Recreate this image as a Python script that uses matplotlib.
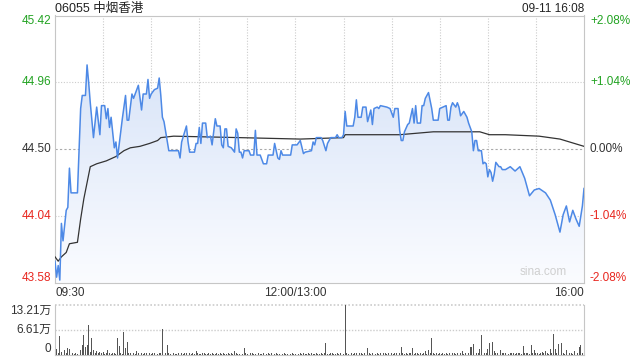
import numpy as np
import matplotlib
matplotlib.use('Agg')
import matplotlib.pyplot as plt
import matplotlib.transforms as mtransforms
from matplotlib.colors import LinearSegmentedColormap

plt.rcParams['font.family'] = ['Liberation Sans', 'Noto Sans CJK SC', 'DejaVu Sans']

# 分时数据 (分钟: 0 = 09:30, 150 = 12:00/13:00, 330 = 16:00)
price_min = [0, 1, 2, 3, 4, 5, 7, 8, 9, 10, 14, 16, 17, 19, 20, 21, 22, 24, 26, 28,
             29, 31, 32, 33, 34, 35, 37, 38, 39, 42, 44, 45, 46, 48, 49, 52, 54, 55, 57, 58,
             59, 60, 62, 64, 65, 66, 67, 68, 71, 77, 78, 79, 82, 83, 84, 87, 88, 89, 90, 91,
             92, 94, 95, 97, 98, 100, 101, 103, 104, 105, 106, 107, 108, 110, 112, 113, 114, 115, 116, 117,
             118, 121, 122, 124, 125, 126, 128, 130, 132, 133, 136, 137, 139, 140, 141, 142, 147, 148, 151, 153,
             155, 156, 160, 161, 162, 163, 166, 167, 169, 170, 172, 175, 176, 177, 179, 180, 181, 182, 186, 187,
             188, 189, 191, 192, 194, 195, 197, 198, 199, 201, 202, 203, 207, 209, 211, 212, 214, 215, 216, 217,
             218, 220, 221, 223, 224, 225, 226, 228, 229, 230, 231, 233, 235, 236, 239, 240, 242, 244, 245, 246,
             247, 248, 250, 251, 252, 253, 255, 257, 258, 260, 261, 262, 263, 264, 266, 267, 268, 269, 270, 271,
             272, 273, 274, 275, 277, 278, 279, 281, 284, 287, 290, 293, 296, 299, 302, 306, 309, 312, 315, 317,
             319, 321, 323, 325, 327, 329, 330]
price = [43.73, 43.62, 43.70, 43.60, 43.99, 43.87, 44.08, 44.10, 44.37, 44.20, 44.20, 44.78, 44.87, 44.87, 45.08, 44.96, 44.82, 44.58, 44.79, 44.60,
         44.80, 44.80, 44.71, 44.78, 44.65, 44.72, 44.51, 44.55, 44.44, 44.71, 44.87, 44.70, 44.70, 44.88, 44.85, 44.94, 44.77, 44.88, 44.88, 44.98,
         44.85, 44.88, 44.91, 44.92, 44.99, 44.87, 44.72, 44.69, 44.49, 44.49, 44.44, 44.55, 44.66, 44.55, 44.48, 44.48, 44.54, 44.54, 44.65, 44.54,
         44.68, 44.68, 44.58, 44.59, 44.53, 44.71, 44.66, 44.66, 44.53, 44.51, 44.64, 44.64, 44.52, 44.51, 44.48, 44.64, 44.61, 44.48, 44.48, 44.44,
         44.49, 44.49, 44.46, 44.46, 44.63, 44.46, 44.46, 44.40, 44.40, 44.46, 44.46, 44.54, 44.44, 44.43, 44.49, 44.46, 44.46, 44.53, 44.53, 44.56,
         44.47, 44.48, 44.49, 44.55, 44.53, 44.58, 44.58, 44.56, 44.49, 44.54, 44.58, 44.58, 44.60, 44.58, 44.58, 44.60, 44.76, 44.66, 44.66, 44.72,
         44.84, 44.72, 44.72, 44.79, 44.79, 44.69, 44.77, 44.67, 44.78, 44.79, 44.78, 44.80, 44.79, 44.78, 44.72, 44.78, 44.78, 44.63, 44.56, 44.56,
         44.62, 44.67, 44.68, 44.78, 44.68, 44.80, 44.68, 44.68, 44.80, 44.80, 44.85, 44.89, 44.78, 44.70, 44.70, 44.78, 44.79, 44.80, 44.70, 44.70,
         44.79, 44.82, 44.79, 44.82, 44.79, 44.73, 44.76, 44.72, 44.68, 44.62, 44.49, 44.56, 44.56, 44.49, 44.49, 44.40, 44.41, 44.40, 44.31, 44.36,
         44.34, 44.28, 44.33, 44.41, 44.38, 44.38, 44.36, 44.36, 44.38, 44.35, 44.38, 44.30, 44.18, 44.22, 44.23, 44.20, 44.15, 44.05, 43.93, 44.05,
         44.11, 44.00, 44.08, 44.02, 43.97, 44.11, 44.23]

avg_min = [0, 2, 4, 7, 9, 14, 16, 18, 20, 22, 26, 32, 38, 43, 47, 53, 59, 64, 66, 74,
           115, 153, 180, 181, 215, 236, 259, 265, 271, 281, 302, 315, 324, 330]
avg_price = [43.76, 43.73, 43.76, 43.79, 43.85, 43.86, 44.02, 44.16, 44.27, 44.38, 44.40, 44.42, 44.45, 44.49, 44.51, 44.52, 44.54, 44.56, 44.58, 44.59,
             44.58, 44.57, 44.58, 44.60, 44.60, 44.62, 44.62, 44.62, 44.60, 44.60, 44.59, 44.57, 44.54, 44.52]

# 成交量 (万), 每分钟一根
volume = [5.0, 1.6, 0.6, 5.0, 0.8, 3.1, 1.3, 0.5, 1.9, 1.6,
          0.8, 0.4, 0.3, 0.5, 0.3, 0.4, 1.3, 2.6, 5.3, 2.2,
          2.6, 7.9, 0.9, 4.4, 1.3, 0.6, 1.1, 0.5, 0.7, 0.4,
          0.7, 0.3, 0.5, 1.3, 0.4, 0.3, 0.6, 0.4, 0.3, 4.6,
          2.4, 0.5, 0.3, 6.2, 1.9, 3.5, 0.6, 0.4, 1.3, 0.5,
          0.3, 1.0, 0.4, 1.6, 0.5, 0.3, 0.4, 0.6, 2.9, 0.4,
          0.3, 0.5, 0.4, 0.8, 0.3, 0.4, 0.5, 6.8, 0.6, 0.4,
          2.6, 0.5, 0.3, 0.2, 0.4, 0.3, 0.2, 0.5, 0.3, 0.4,
          0.3, 0.6, 0.4, 0.2, 0.5, 0.3, 0.4, 0.2, 1.1, 0.5,
          0.3, 0.2, 0.4, 0.6, 0.3, 0.2, 0.5, 0.3, 0.4, 0.2,
          0.3, 0.5, 0.2, 0.4, 0.3, 0.6, 0.2, 0.3, 0.4, 0.2,
          0.5, 0.3, 1.0, 0.4, 0.2, 0.3, 0.5, 0.2, 1.8, 0.4,
          0.3, 0.2, 0.4, 0.5, 0.3, 0.2, 1.8, 0.4, 0.3, 0.2,
          0.5, 0.3, 0.2, 0.4, 0.3, 0.6, 0.2, 0.3, 0.4, 0.2,
          0.3, 0.5, 0.2, 0.4, 0.3, 0.2, 0.5, 0.3, 0.4, 0.2,
          0.3, 0.9, 0.2, 0.4, 0.3, 0.5, 0.2, 0.3, 0.4, 0.2,
          0.5, 0.3, 0.2, 0.4, 0.3, 0.2, 0.5, 0.3, 0.4, 3.1,
          0.3, 0.2, 0.4, 0.5, 0.3, 0.2, 0.4, 0.3, 0.5, 0.2,
          0.3, 13.21, 0.4, 0.2, 0.3, 0.5, 0.3, 0.4, 0.6, 0.3,
          0.5, 0.4, 0.3, 0.6, 0.4, 1.8, 0.5, 0.3, 0.6, 0.4,
          0.3, 0.5, 0.2, 0.4, 0.3, 0.6, 0.4, 0.3, 0.5, 0.2,
          0.4, 0.3, 0.6, 0.4, 0.3, 0.5, 2.0, 0.4, 0.3, 0.5,
          0.3, 0.4, 0.6, 1.8, 0.3, 0.5, 0.4, 0.2, 0.6, 0.3,
          0.4, 1.1, 0.3, 1.3, 0.5, 4.4, 0.4, 0.3, 0.5, 0.2,
          0.4, 0.3, 0.6, 0.2, 0.4, 0.3, 0.5, 0.2, 0.6, 0.4,
          0.3, 0.5, 0.4, 0.6, 1.1, 0.3, 0.5, 1.0, 0.4, 2.0,
          2.2, 2.8, 1.3, 0.5, 0.4, 1.5, 5.3, 1.8, 0.6, 0.4,
          1.5, 3.1, 0.5, 3.5, 1.0, 0.4, 0.6, 0.3, 1.3, 0.5,
          0.4, 0.6, 0.8, 0.3, 0.5, 0.4, 0.6, 0.3, 0.5, 0.4,
          0.6, 0.3, 2.4, 0.5, 0.4, 0.6, 0.3, 2.6, 0.5, 1.3,
          0.4, 0.6, 0.3, 0.5, 0.8, 0.4, 1.0, 0.5, 0.3, 1.5,
          0.6, 5.5, 1.5, 0.4, 2.8, 4.2, 3.1, 0.5, 0.3, 1.3,
          1.3, 0.4, 0.6, 0.3, 1.0, 0.5, 0.4, 2.2, 2.6, 0.6,
          1.8]

prev_close = 44.50
price_ticks = [45.42, 44.96, 44.50, 44.04, 43.58]
pct_ticks = ['+2.08%', '+1.04%', '0.00%', '-1.04%', '-2.08%']
tick_colors = ['#22a322', '#22a322', '#333333', '#e8261f', '#e8261f']
vol_ticks = [13.21, 6.61, 0]
vol_labels = ['13.21万', '6.61万', '0']

green = '#22a322'
grid_c = '#cccccc'
border_c = '#c6c6c6'

fig = plt.figure(figsize=(6.4, 3.6), dpi=100)
ax = fig.add_axes([55 / 640, 1 - 283 / 360, 529 / 640, 267.5 / 360])
axv = fig.add_axes([55 / 640, 1 - 355 / 360, 529 / 640, 50 / 360])

ax.set_xlim(0, 330)
ax.set_ylim(price_ticks[-1], price_ticks[0])

# 网格
for m in range(30, 330, 30):
    ax.axvline(m, color=grid_c, lw=0.8, ls=(0, (1, 1.5)), zorder=1)
for p in [44.96, 44.04]:
    ax.axhline(p, color=grid_c, lw=0.8, ls=(0, (1, 1.5)), zorder=1)
ax.axhline(prev_close, color='#aaaaaa', lw=0.8, ls=(0, (2, 2)), zorder=1)

# 渐变填充
poly = ax.fill_between(price_min, price, price_ticks[-1], facecolor='none', edgecolor='none')
cmap = LinearSegmentedColormap.from_list('fill', ['#fbfcff', '#d8e4f8'])
grad = np.linspace(1, 0, 256).reshape(-1, 1)
im = ax.imshow(grad, cmap=cmap, aspect='auto', extent=[0, 330, price_ticks[-1], max(price)],
               zorder=2, vmin=0, vmax=1)
im.set_clip_path(poly.get_paths()[0], transform=ax.transData)
ax.set_xlim(0, 330)
ax.set_ylim(price_ticks[-1], price_ticks[0])

ax.plot(price_min, price, color='#4d89e6', lw=1.1, zorder=4)
ax.plot(avg_min, avg_price, color='#333333', lw=0.9, zorder=3)

for s in ax.spines.values():
    s.set_color(border_c)
    s.set_linewidth(0.8)
ax.set_xticks([])
ax.set_yticks([])

# 左右刻度
offsets = [-6, 0, 0, 0, 5]
for p, pct, c, off in zip(price_ticks, pct_ticks, tick_colors, offsets):
    tl = mtransforms.offset_copy(ax.get_yaxis_transform(), fig=fig, x=-4, y=off, units='dots')
    ax.text(0, p, f'{p:.2f}', transform=tl, ha='right', va='center', fontsize=8.5, color=c)
    tr = mtransforms.offset_copy(ax.get_yaxis_transform(), fig=fig, x=6, y=off, units='dots')
    ax.text(1, p, pct, transform=tr, ha='left', va='center', fontsize=8.5, color=c)

# 时间轴标签
tx = mtransforms.offset_copy(ax.get_xaxis_transform(), fig=fig, y=-10, units='dots')
ax.text(0, 0, '09:30', transform=tx, ha='left', va='center', fontsize=8.5, color='#333333')
ax.text(150, 0, '12:00/13:00', transform=tx, ha='center', va='center', fontsize=8.5, color='#333333')
ax.text(330, 0, '16:00', transform=tx, ha='right', va='center', fontsize=8.5, color='#333333')

ax.text(0.967, 0.018, 'sina.com', transform=ax.transAxes, ha='right', va='bottom',
        fontsize=8.5, color='#cfcfcf', zorder=5)

fig.text(55 / 640, 1 - 9 / 360, '06055 中烟香港', ha='left', va='center', fontsize=9, color='#222222')
fig.text(584 / 640, 1 - 9 / 360, '09-11 16:08', ha='right', va='center', fontsize=8.5, color='#222222')

# 成交量
vol_min = np.arange(len(volume))
axv.bar(vol_min, volume, width=0.55, color='#555555', zorder=3)
axv.set_xlim(0, 330)
axv.set_ylim(0, vol_ticks[0])
axv.axhline(vol_ticks[0], color=grid_c, lw=1.2, ls=(0, (1, 1.2)), clip_on=False)
axv.axhline(vol_ticks[1], color=grid_c, lw=1.0, ls=(0, (1, 1.2)))
axv.spines['top'].set_visible(False)
for side in ['left', 'right', 'bottom']:
    axv.spines[side].set_color(border_c)
    axv.spines[side].set_linewidth(0.8)
axv.set_xticks([])
axv.set_yticks([])
voffs = [-6, 0, 6]
for v, lab, off in zip(vol_ticks, vol_labels, voffs):
    tv = mtransforms.offset_copy(axv.get_yaxis_transform(), fig=fig, x=-4, y=off, units='dots')
    axv.text(0, v, lab, transform=tv, ha='right', va='center', fontsize=8.5, color='#333333')

fig.savefig('out.png', dpi=100)
